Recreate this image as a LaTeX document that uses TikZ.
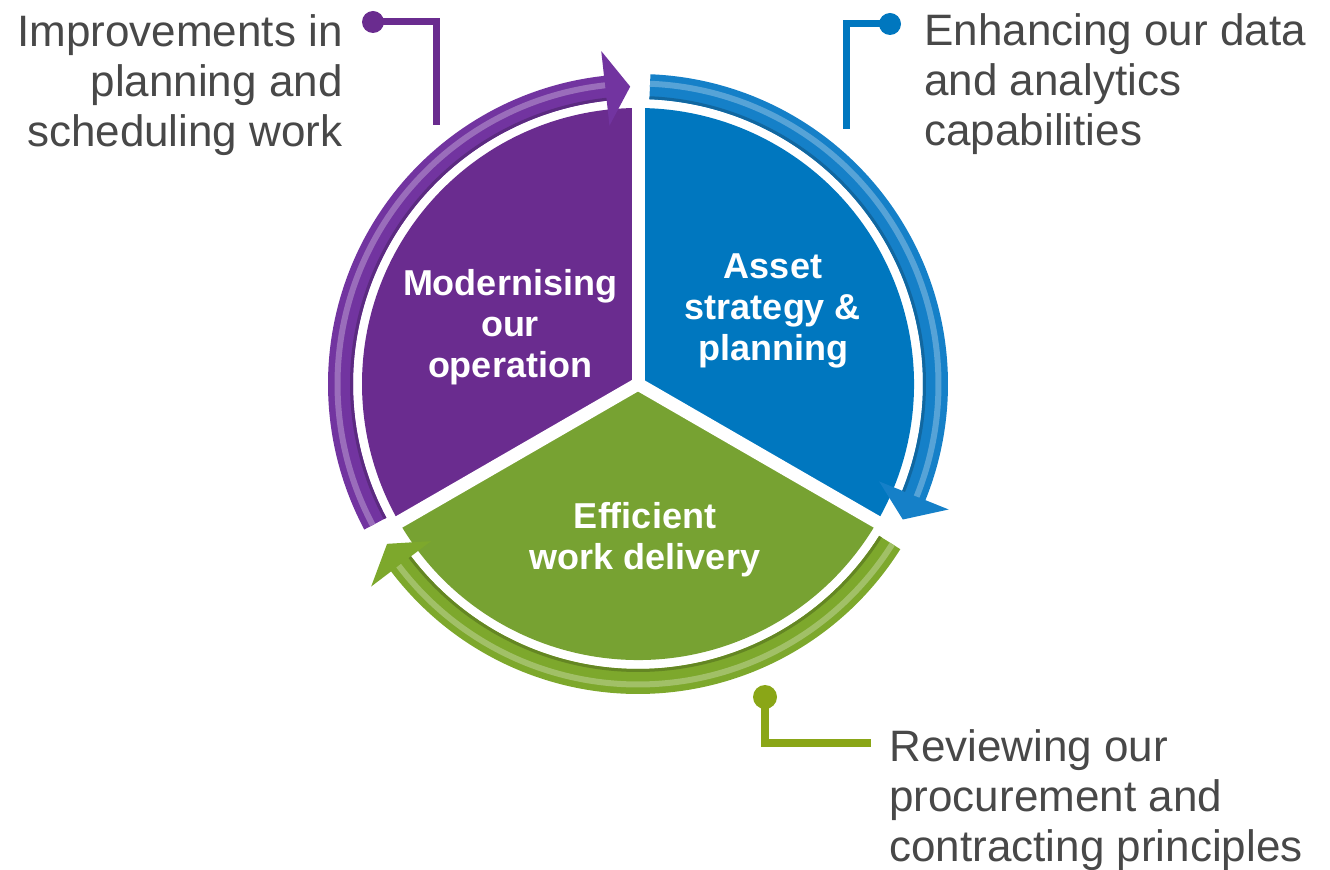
\documentclass[tikz,border=0pt]{standalone}
\usepackage{fontspec}
\setmainfont{Liberation Sans}

\definecolor{purp}{HTML}{6A2C8F}
\definecolor{purparrow}{HTML}{7234A0}
\definecolor{blu}{HTML}{0077BF}
\definecolor{bluarrow}{HTML}{1580C8}
\definecolor{grn}{HTML}{77A232}
\definecolor{grnarrow}{HTML}{7DA82C}
\definecolor{grnline}{HTML}{8AA617}
\definecolor{textgray}{HTML}{484848}

% ring radii (one unit = one pixel of the reference)
\newcommand{\ringin}{285}
\newcommand{\ringout}{310}
\newcommand{\ringmid}{297.5}

% colour, tail angle, head base angle, tip angle
\newcommand{\ringarrow}[4]{%
  \fill[#1] ({#2}:\ringout) arc[start angle=#2, end angle=#3, radius=\ringout]
    -- ({#3}:{\ringout+25}) -- ({#4}:\ringmid) -- ({#3}:{\ringin-25})
    -- ({#3}:\ringin) arc[start angle=#3, end angle=#2, radius=\ringin] -- cycle;
  \draw[#1!80!black, line width=1.5pt] ({#2}:{\ringin+1.5})
    arc[start angle=#2, end angle=#3, radius={\ringin+1.5}];
  \draw[#1!72!white, line width=3pt] ({#2}:{\ringmid+3})
    arc[start angle=#2, end angle=#3, radius={\ringmid+3}];
}

\tikzset{
  pietext/.style={text=white, font=\bfseries\fontsize{18}{20.5}\selectfont, align=center, inner sep=0pt},
  sidetext/.style={text=textgray, font=\fontsize{22}{25}\selectfont, inner sep=0pt},
  dot/.style={circle, inner sep=0pt, minimum size=11pt},
  leader/.style={line width=3.5pt}
}

\begin{document}
\begin{tikzpicture}[x=0.5pt, y=0.5pt]
\useasboundingbox (0,0) rectangle (1330,869);

\begin{scope}[shift={(638,485)}]
% pie
\fill[purp] (0,0) -- (90:276) arc[start angle=90, end angle=210, radius=276] -- cycle;
\fill[blu] (0,0) -- (-30:276) arc[start angle=-30, end angle=90, radius=276] -- cycle;
\fill[grn] (0,0) -- (210:276) arc[start angle=210, end angle=330, radius=276] -- cycle;
\foreach \a in {90,210,330}
  \draw[white, line width=6.5pt] (0,0) -- (\a:282);

% cycle arrows
\ringarrow{purparrow}{208}{96.3}{91.5}
\ringarrow{bluarrow}{87.7}{-22}{-27.1}
\ringarrow{grnarrow}{-32.2}{-142.8}{-147.5}
\end{scope}

% segment texts
\node[pietext] (modern) at (510,542) {Modernising\\our\\operation};
\node[pietext] (asset) at (773,558) {Asset\\strategy \&\\planning};
\node[pietext] (effic) at (645,329) {Efficient\\work delivery};

% side texts
\node[sidetext, anchor=north east, align=right] (improve) at (343,855)
  {Improvements in\\planning and\\scheduling work};
\node[sidetext, anchor=north west, align=left] (enhance) at (924,856)
  {Enhancing our data\\and analytics\\capabilities};
\node[sidetext, anchor=north west, align=left] (review) at (889,140)
  {Reviewing our\\procurement and\\contracting principles};

% leaders
\node[dot, fill=purp] (pdot) at (373,847) {};
\coordinate (pend) at (436,744);
\draw[leader, purp] (pdot.center) -| (pend);

\node[dot, fill=blu] (bdot) at (890,845) {};
\coordinate (bend) at (846,740);
\draw[leader, blu] (bdot.center) -| (bend);

\node[dot, fill=grnline, minimum size=12pt] (gdot) at (765,172) {};
\coordinate (gend) at (871,126);
\draw[leader, grnline, line width=4pt] (gdot.center) |- (gend);

\end{tikzpicture}
\end{document}
